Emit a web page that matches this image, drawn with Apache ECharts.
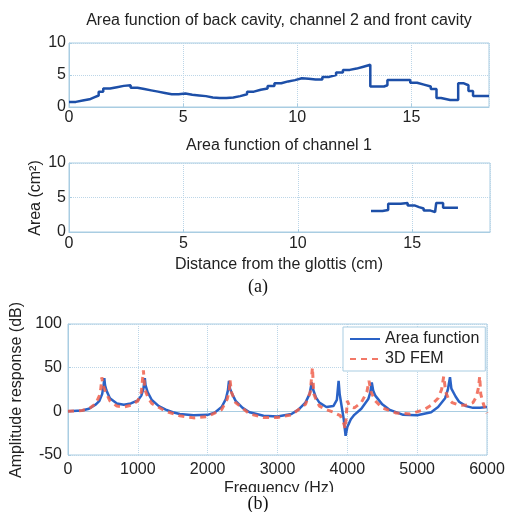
<!DOCTYPE html>
<html><head><meta charset="utf-8">
<script src="https://cdn.jsdelivr.net/npm/echarts@6/dist/echarts.min.js"></script>
<style>html,body{margin:0;padding:0;background:#fff}#c{width:508px;height:512px}</style>
</head><body><div id="c"></div>
<script>
// Back cavity, channel 2 and front cavity (distance cm, area cm^2)
const backX = [0, 0.3, 0.6, 0.9, 1.1, 1.3, 1.5, 1.8, 2.1, 2.4, 2.7, 3.0, 3.3, 3.6, 3.9, 4.2, 4.5, 4.8, 5.1, 5.4, 5.7, 6.0, 6.3, 6.6, 6.9, 7.2, 7.5, 7.8, 8.1, 8.4, 8.7, 9.0, 9.3, 9.6, 9.9, 10.2, 10.5, 10.8, 11.1, 11.4, 11.7, 12.0, 12.3, 12.6, 12.9, 13.2, 13.5, 13.8, 13.95, 14.3, 14.65, 14.95, 15.25, 15.55, 15.85, 16.1, 16.3, 16.7, 17.05, 17.3, 17.5, 17.7, 18.4];
const backArea = [0.8, 1.0, 1.2, 1.5, 1.8, 2.4, 2.9, 3.1, 3.3, 3.4, 3.0, 2.8, 2.6, 2.4, 2.2, 2.0, 2.0, 2.1, 1.9, 1.8, 1.7, 1.5, 1.4, 1.4, 1.5, 1.7, 2.0, 2.4, 2.7, 2.9, 3.3, 3.7, 4.0, 4.2, 4.5, 4.4, 4.3, 4.3, 4.7, 5.0, 5.4, 5.8, 6.0, 6.3, 6.6, 3.2, 3.2, 3.4, 4.2, 4.2, 4.2, 3.8, 3.5, 3.2, 2.8, 1.4, 1.1, 1.1, 3.7, 3.4, 2.5, 1.7, 1.7];
// Channel 1
const ch1X = [13.2, 13.7, 13.95, 14.5, 14.8, 15.1, 15.3, 15.5, 15.8, 16.0, 16.05, 16.35, 17.0];
const ch1Area = [3.05, 3.2, 4.1, 4.2, 3.85, 3.6, 3.4, 3.1, 2.9, 2.65, 4.2, 3.5, 3.5];
// Amplitude response: area function
const afFreq = [0, 200, 300, 400, 450, 490, 510, 520, 530, 550, 600, 700, 800, 900, 1000, 1050, 1080, 1100, 1110, 1140, 1200, 1300, 1400, 1500, 1600, 1800, 2000, 2100, 2200, 2260, 2290, 2305, 2320, 2350, 2400, 2500, 2600, 2800, 3000, 3200, 3300, 3400, 3460, 3490, 3510, 3550, 3600, 3700, 3800, 3850, 3875, 3890, 3920, 3950, 3975, 4000, 4050, 4100, 4200, 4300, 4330, 4350, 4370, 4400, 4500, 4600, 4800, 5000, 5200, 5300, 5400, 5440, 5470, 5490, 5550, 5600, 5700, 5800, 5900, 6000];
const afDB = [0, 1, 3, 8, 12, 20, 30, 38, 30, 24, 15, 9, 7.5, 9, 12.5, 18, 26, 38, 30, 22, 13, 6, 2, -1, -3, -4.5, -4, -1.5, 5, 14, 24, 35, 26, 20, 12, 4, -1, -5, -6, -3, 2, 10, 20, 33, 25, 16, 10, 5, 6, 13, 35, 20, 5, -10, -28, -18, -9, -4, 3, 14, 22, 33, 24, 18, 8, 2, -4, -4.5, -1, 5, 15, 25, 39, 26, 17, 11, 6, 4, 4, 5];
// Amplitude response: 3D FEM
const femFreq = [0, 200, 300, 400, 450, 470, 485, 500, 530, 600, 700, 800, 900, 1000, 1050, 1080, 1100, 1150, 1200, 1400, 1600, 1800, 2000, 2200, 2280, 2310, 2320, 2340, 2400, 2600, 2800, 3000, 3200, 3400, 3470, 3500, 3520, 3560, 3600, 3700, 3800, 3900, 3950, 3970, 3985, 4000, 4030, 4100, 4200, 4280, 4310, 4340, 4400, 4500, 4700, 4900, 5100, 5200, 5300, 5350, 5380, 5410, 5450, 5500, 5600, 5700, 5800, 5850, 5880, 5895, 5910, 5950, 6000];
const femDB = [0, 1, 3, 9, 18, 26, 39, 30, 24, 12, 6, 5, 7, 12, 22, 47, 25, 15, 9, 0, -5, -7.5, -6, 2, 14, 24, 36, 22, 10, -3, -7, -7, -4, 8, 22, 50, 20, 12, 6, 2, -1, -5, -14, -20, -5, 12, 6, 4, 10, 22, 35, 22, 12, 4, -2, -3, 2, 7, 15, 25, 40, 22, 14, 10, 7, 7, 10, 17, 28, 40, 20, 8, -2];

const zip = (xs, ys) => xs.map((x, i) => [x, ys[i]]);
const FONT = 'Liberation Sans';
const frame = '#a9cde2';
const gridLine = {show: true, lineStyle: {type: 'dotted', color: '#bcd6e8', width: 1}};
const plain = v => String(v);
function xAx(gi, max, interval, margin, showMax) {
  return {gridIndex: gi, type: 'value', min: 0, max: max, interval: interval,
    axisLine: {show: true, lineStyle: {color: frame}},
    axisTick: {inside: true, length: 3, lineStyle: {color: frame}},
    axisLabel: {showMaxLabel: showMax, fontSize: 16, color: '#222', margin: margin, fontFamily: FONT, formatter: plain},
    splitLine: gridLine};
}
function yAx(gi, min, max, interval, margin) {
  return {gridIndex: gi, type: 'value', min: min, max: max, interval: interval,
    axisLine: {show: true, lineStyle: {color: frame}},
    axisTick: {inside: true, length: 3, lineStyle: {color: frame}},
    axisLabel: {fontSize: 16, color: '#222', margin: margin, fontFamily: FONT, formatter: plain},
    splitLine: gridLine};
}
const chart = echarts.init(document.getElementById('c'), null, {renderer: 'canvas'});
const txt = (x, y, text, extra) => Object.assign({type: 'text', x: x, y: y, z: 10,
  style: Object.assign({text: text, fontSize: 16, fontFamily: FONT, fill: '#222', align: 'center', verticalAlign: 'middle'}, extra || {})});
chart.setOption({
  animation: false,
  backgroundColor: '#fff',
  grid: [
    {left: 69, top: 43, width: 420, height: 64, show: true, borderColor: frame, borderWidth: 1},
    {left: 69, top: 163, width: 421, height: 69, show: true, borderColor: frame, borderWidth: 1},
    {left: 68, top: 324, width: 419, height: 131, show: true, borderColor: frame, borderWidth: 1}
  ],
  xAxis: [xAx(0, 18.4, 5, 3, false), xAx(1, 18.4, 5, 4, false), xAx(2, 6000, 1000, 7, true)],
  yAxis: [yAx(0, 0, 10, 5, 3), yAx(1, 0, 10, 5, 3), yAx(2, -50, 100, 50, 6)],
  legend: {orient: 'vertical', left: 343, top: 327, itemWidth: 30, itemHeight: 10, itemGap: 4,
    padding: [4, 6, 4, 6], backgroundColor: '#fff', borderColor: frame, borderWidth: 1,
    itemStyle: {opacity: 0},
    textStyle: {fontSize: 16, color: '#222', fontFamily: FONT},
    data: ['Area function', '3D FEM']},
  series: [
    {type: 'line', xAxisIndex: 0, yAxisIndex: 0, data: zip(backX, backArea), step: 'end', symbol: 'none',
      lineStyle: {color: '#1d4fa8', width: 2.5}},
    {type: 'line', xAxisIndex: 1, yAxisIndex: 1, data: zip(ch1X, ch1Area), step: 'end', symbol: 'none',
      lineStyle: {color: '#1d4fa8', width: 2.5}},
    {name: 'Area function', type: 'line', xAxisIndex: 2, yAxisIndex: 2, data: zip(afFreq, afDB), symbol: 'none',
      color: '#2a62c6', lineStyle: {color: '#2a62c6', width: 2.5}},
    {name: '3D FEM', type: 'line', xAxisIndex: 2, yAxisIndex: 2, data: zip(femFreq, femDB), symbol: 'none',
      color: '#f0604c', lineStyle: {color: '#f0604c', width: 3, type: [6, 5], opacity: 0.85}, z: 3}
  ],
  graphic: [
    txt(279, 21, 'Area function of back cavity, channel 2 and front cavity'),
    txt(279, 146, 'Area function of channel 1'),
    txt(279, 265, 'Distance from the glottis (cm)'),
    txt(258, 287, '(a)', {fontFamily: 'Liberation Serif', fontSize: 18, fill: '#111'}),
    Object.assign(txt(36, 198, 'Area (cm²)'), {rotation: Math.PI / 2}),
    Object.assign(txt(17, 390, 'Amplitude response (dB)'), {rotation: Math.PI / 2}),
    txt(279, 489, 'Frequency (Hz)'),
    {type: 'rect', z: 20, shape: {x: 0, y: 492, width: 508, height: 20}, style: {fill: '#fff'}},
    Object.assign(txt(258, 504, '(b)', {fontFamily: 'Liberation Serif', fontSize: 18, fill: '#111'}), {z: 30})
  ]
});
</script></body></html>
